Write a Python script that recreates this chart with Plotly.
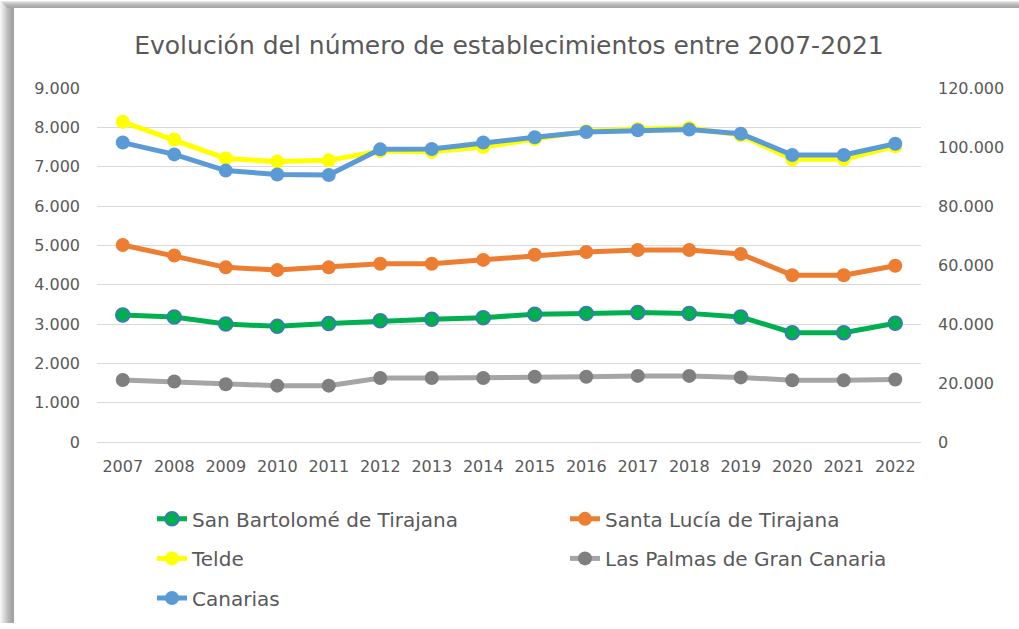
import plotly.graph_objects as go

years = [str(y) for y in range(2007, 2023)]

san_bartolome = [3230, 3180, 3000, 2940, 3010, 3080, 3120, 3160, 3250, 3270, 3290, 3270, 3180, 2780, 2780, 3020]
santa_lucia = [5010, 4740, 4440, 4370, 4440, 4530, 4530, 4630, 4760, 4830, 4880, 4880, 4780, 4240, 4240, 4480]
telde = [8140, 7690, 7210, 7130, 7160, 7400, 7380, 7500, 7700, 7900, 7960, 7990, 7800, 7190, 7190, 7520]
las_palmas = [21000, 20500, 19600, 19100, 19100, 21700, 21700, 21700, 22100, 22100, 22400, 22400, 21900, 20900, 20900, 21200]
canarias = [101500, 97500, 92000, 90700, 90500, 99200, 99300, 101500, 103300, 105100, 105700, 105900, 104500, 97300, 97300, 101100]

FONT = "DejaVu Sans"
TXT = "#595959"

W, H = 1019, 629
L, R, T, B = 97, 98, 88, 183
PW, PH = W - L - R, H - T - B


def px(x):
    return (x - L) / PW


def py(y):
    return (H - B - y) / PH


fig = go.Figure()


def add(name, vals, line_color, marker_color, outline, axis, legend):
    fig.add_trace(go.Scatter(
        x=years, y=vals, name=name, mode="lines+markers", yaxis=axis, legend=legend,
        line=dict(color=line_color, width=5),
        marker=dict(color=marker_color, size=14,
                    line=dict(color=outline, width=1.5 if outline != marker_color else 0)),
    ))


add("San Bartolomé de Tirajana", san_bartolome, "#00b050", "#00b050", "#4472c4", "y", "legend")
add("Santa Lucía de Tirajana", santa_lucia, "#ed7d31", "#ed7d31", "#ed7d31", "y", "legend")
add("Telde", telde, "#ffff00", "#ffff00", "#ffff00", "y", "legend2")
add("Las Palmas de Gran Canaria", las_palmas, "#a5a5a5", "#7f7f7f", "#7f7f7f", "y2", "legend2")
add("Canarias", canarias, "#5b9bd5", "#5b9bd5", "#5b9bd5", "y2", "legend3")

shapes = []
left_cols = ["#f4f4f4", "#eeeeee", "#e6e6e6", "#dedede", "#d6d6d6", "#cecece", "#c6c6c6",
             "#bebebe", "#b8b8b8", "#b2b2b2", "#acacac", "#a8a8a8", "#a4a4a4", "#a2a2a2"]
for i, c in enumerate(left_cols):
    shapes.append(dict(type="rect", xref="paper", yref="paper", x0=px(i), x1=px(i + 1),
                       y0=py(H), y1=py(0), fillcolor=c, line=dict(width=0), layer="below"))
top_cols = ["#e4e4e4", "#d6d6d6", "#c8c8c8", "#bcbcbc", "#b2b2b2", "#aaaaaa", "#a6a6a6"]
for i, c in enumerate(top_cols):
    shapes.append(dict(type="rect", xref="paper", yref="paper", x0=px(i + 1), x1=px(W),
                       y0=py(i + 1), y1=py(i), fillcolor=c, line=dict(width=0), layer="below"))


def legend_box(ytop):
    return dict(orientation="h", x=px(152), xanchor="left", y=py(ytop), yanchor="top",
                entrywidth=368, entrywidthmode="pixels", traceorder="normal",
                font=dict(family=FONT, size=20, color=TXT), bgcolor="rgba(0,0,0,0)")


fig.update_layout(
    width=W, height=H,
    margin=dict(l=L, r=R, t=T, b=B),
    paper_bgcolor="white", plot_bgcolor="white",
    separators=",.",
    font=dict(family=FONT, color=TXT, size=16),
    title=dict(text="Evolución del número de establecimientos entre 2007-2021",
               font=dict(family=FONT, size=25, color=TXT), x=0.5, xanchor="center",
               xref="paper", y=1 - 45 / H, yanchor="middle"),
    xaxis=dict(type="category", range=[-0.5, 15.5], showgrid=False, showline=False,
               ticks="", ticklabelstandoff=13, tickfont=dict(size=16, color=TXT)),
    yaxis=dict(range=[0, 9000], dtick=1000, tickformat=",d", showgrid=True,
               gridcolor="#d9d9d9", gridwidth=1, zeroline=True, zerolinecolor="#d9d9d9",
               zerolinewidth=1, showline=False, ticks="", ticklabelstandoff=16,
               tickfont=dict(size=16, color=TXT)),
    yaxis2=dict(range=[0, 120000], dtick=20000, tickformat=",d", overlaying="y", side="right",
                showgrid=False, zeroline=False, showline=False, ticks="", ticklabelstandoff=16,
                tickfont=dict(size=16, color=TXT)),
    legend=legend_box(504),
    legend2=legend_box(544),
    legend3=legend_box(584),
    shapes=shapes,
    showlegend=True,
)

fig.write_html("out.html", config={"displayModeBar": False},
               post_script="document.body.style.margin='0';document.body.style.overflow='hidden';")
